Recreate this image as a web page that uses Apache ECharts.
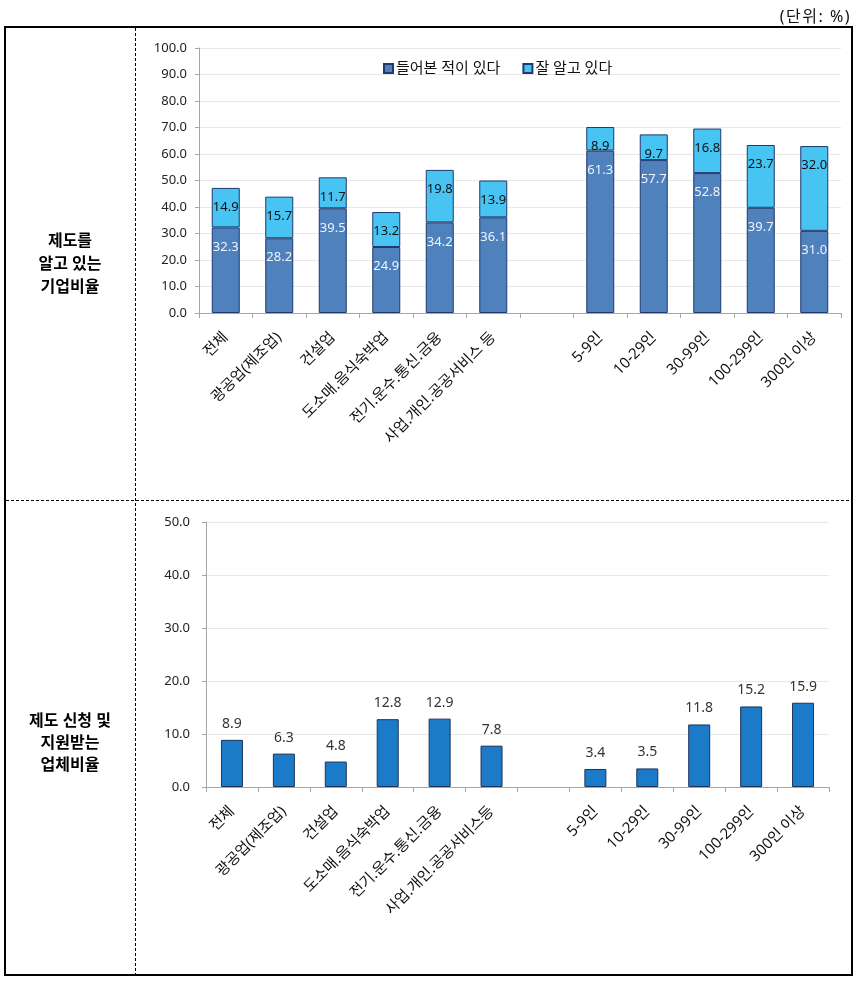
<!DOCTYPE html>
<html><head><meta charset="utf-8">
<script src="https://cdn.jsdelivr.net/npm/echarts@6/dist/echarts.min.js"></script>
<style>
html,body{margin:0;padding:0;background:#fff}
#wrap{position:relative;width:863px;height:990px}
#c{width:863px;height:990px}
#unit{position:absolute;right:12px;top:3px;font:16px "Noto Sans","Noto Sans CJK KR",sans-serif;letter-spacing:1.5px;color:#111;white-space:nowrap}
</style>
</head><body><div id="wrap"><div id="c"></div><div id="unit"></div></div>
<script>
const categoriesTop = ['전체','광공업(제조업)','건설업','도소매.음식숙박업','전기.운수.통신.금융','사업.개인.공공서비스 등','','5-9인','10-29인','30-99인','100-299인','300인 이상'];
const categoriesBottom = ['전체','광공업(제조업)','건설업','도소매.음식숙박업','전기.운수.통신.금융','사업.개인.공공서비스등','','5-9인','10-29인','30-99인','100-299인','300인 이상'];
const heardOf = [32.3,28.2,39.5,24.9,34.2,36.1,null,61.3,57.7,52.8,39.7,31.0];
const knowWell = [14.9,15.7,11.7,13.2,19.8,13.9,null,8.9,9.7,16.8,23.7,32.0];
const applied = [8.9,6.3,4.8,12.8,12.9,7.8,null,3.4,3.5,11.8,15.2,15.9];
const seriesNames = ['들어본 적이 있다','잘 알고 있다'];
const rowTitles = ['제도를\n알고 있는\n기업비율','제도 신청 및\n지원받는\n업체비율'];
const unitText = '(단위: %)';

document.getElementById('unit').textContent = unitText;

const FF = '"Noto Sans","Noto Sans CJK KR",sans-serif';
const fmt = p => (p.value == null ? '' : Number(p.value).toFixed(1));
const chart = echarts.init(document.getElementById('c'));

const xAxisCommon = {
  type:'category', boundaryGap:true,
  axisLine:{show:true, lineStyle:{color:'#A6A6A6', width:1}},
  axisTick:{show:true, length:5, inside:false, lineStyle:{color:'#A6A6A6'}},
  axisLabel:{interval:0, rotate:45, fontSize:15, color:'#111', fontFamily:FF, margin:22},
  splitLine:{show:false}
};
const yAxisCommon = {
  type:'value',
  axisLine:{show:true, lineStyle:{color:'#A6A6A6'}},
  axisTick:{show:true, length:4, inside:false, lineStyle:{color:'#A6A6A6'}},
  splitLine:{show:true, lineStyle:{color:'#E8E8E8', width:1}},
  axisLabel:{fontSize:13, color:'#222', fontFamily:FF, formatter:v=>v.toFixed(1)}
};

chart.setOption({
  animation:false,
  textStyle:{fontFamily:FF},
  grid:[
    {left:199, top:48, width:642, height:265},
    {left:206, top:522, width:623, height:265}
  ],
  legend:{
    left:378, top:56, itemWidth:9, itemHeight:9, itemGap:22,
    icon:'rect',
    textStyle:{fontSize:15, color:'#111', fontFamily:FF, padding:[0,0,0,-2]},
    data:seriesNames
  },
  xAxis:[
    Object.assign({}, xAxisCommon, {gridIndex:0, data:categoriesTop}),
    Object.assign({}, xAxisCommon, {gridIndex:1, data:categoriesBottom})
  ],
  yAxis:[
    Object.assign({}, yAxisCommon, {gridIndex:0, min:0, max:100, interval:10, axisLabel:Object.assign({}, yAxisCommon.axisLabel, {margin:12})}),
    Object.assign({}, yAxisCommon, {gridIndex:1, min:0, max:50, interval:10, axisLabel:Object.assign({}, yAxisCommon.axisLabel, {margin:16})})
  ],
  series:[
    {name:seriesNames[0], type:'bar', stack:'a', xAxisIndex:0, yAxisIndex:0, data:heardOf, barWidth:28,
     itemStyle:{color:'#4F81BD', borderColor:'#1F3A6E', borderWidth:1},
     label:{show:true, position:'insideTop', distance:13, fontSize:13, color:'#F0F3FA', fontFamily:FF, formatter:fmt}},
    {name:seriesNames[1], type:'bar', stack:'a', xAxisIndex:0, yAxisIndex:0, data:knowWell, barWidth:28,
     itemStyle:{color:'#47C4F2', borderColor:'#1F3A6E', borderWidth:1},
     label:{show:true, position:'insideTop', distance:13, fontSize:13, color:'#111', fontFamily:FF, formatter:fmt}},
    {name:'지원받는 업체비율', type:'bar', xAxisIndex:1, yAxisIndex:1, data:applied, barWidth:22,
     itemStyle:{color:'#1B7BC8', borderColor:'#1F3358', borderWidth:1},
     label:{show:true, position:'top', distance:9, fontSize:14, color:'#333', fontFamily:FF, formatter:fmt}}
  ],
  graphic:[
    {type:'rect', shape:{x:5, y:27, width:847, height:948}, style:{fill:null, stroke:'#000', lineWidth:2}, silent:true},
    {type:'line', shape:{x1:135.5, y1:28, x2:135.5, y2:974}, style:{stroke:'#000', lineWidth:1, lineDash:[3,2]}, silent:true},
    {type:'line', shape:{x1:6, y1:500.5, x2:851, y2:500.5}, style:{stroke:'#000', lineWidth:1, lineDash:[3,2]}, silent:true},
    {type:'text', x:70, y:264, style:{text:rowTitles[0], fontSize:16, fontWeight:'bold', lineHeight:23, fill:'#000', align:'center', verticalAlign:'middle', fontFamily:FF}, silent:true},
    {type:'text', x:70, y:743, style:{text:rowTitles[1], fontSize:16, fontWeight:'bold', lineHeight:22, fill:'#000', align:'center', verticalAlign:'middle', fontFamily:FF}, silent:true}
  ]
});
</script></body></html>
